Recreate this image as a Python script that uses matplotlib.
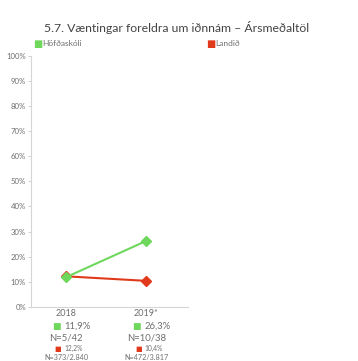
import matplotlib
matplotlib.use("Agg")
import matplotlib.pyplot as plt
from matplotlib.transforms import blended_transform_factory

years = ["2018", "2019*"]
school_name = "Höfðaskóli"
national_name = "Landið"
school_pct = [11.9, 26.3]
national_pct = [12.2, 10.4]
school_n = ["N=5/42", "N=10/38"]
national_n = ["N=373/2.840", "N=472/3.817"]
yticks = [0, 10, 20, 30, 40, 50, 60, 70, 80, 90, 100]

GREEN = "#6fd75c"
RED = "#e0391b"
GRAY = "#6e6e6e"
FONT = "Lato"

plt.rcParams["font.family"] = [FONT, "DejaVu Sans"]

fig = plt.figure(figsize=(3.58, 3.61), dpi=100)
ax = fig.add_axes([0.0866, 0.1496, 0.4384, 0.6961])

x = list(range(len(years)))
ax.plot(x, school_pct, color=GREEN, lw=1.5, marker="D", ms=5.5, zorder=3)
ax.plot(x, national_pct, color=RED, lw=1.5, marker="D", ms=5.5, zorder=2)

ax.set_xlim(-0.44, 1.52)
ax.set_ylim(0, 100)
ax.set_yticks(yticks)
ax.set_yticklabels([f"{v}%" for v in yticks], fontsize=5.6, color=GRAY)
ax.set_xticks([])
ax.tick_params(axis="y", length=2, width=0.5, color="#bbbbbb", pad=1.5)
for side in ("top", "right"):
    ax.spines[side].set_visible(False)
for side in ("left", "bottom"):
    ax.spines[side].set_color("#d5d5d5")
    ax.spines[side].set_linewidth(0.8)

# Category labels with values and sample sizes under the axis
tr = blended_transform_factory(ax.transData, fig.transFigure)
for i, yr in enumerate(years):
    ax.text(i, 1 - 314 / 361, yr, transform=tr, ha="center", va="center",
            fontsize=6.5, color=GRAY)
    ax.text(i - 0.02, 1 - 326 / 361, f"{school_pct[i]:.1f}%".replace(".", ","),
            transform=tr, ha="left", va="center", fontsize=6.8, color=GRAY)
    ax.text(i - 0.07, 1 - 326 / 361, "■", transform=tr, ha="right", va="center",
            fontsize=6.5, color=GREEN, family="DejaVu Sans")
    ax.text(i, 1 - 338 / 361, school_n[i], transform=tr, ha="center", va="center",
            fontsize=6.8, color=GRAY)
    ax.text(i - 0.02, 1 - 348.5 / 361, f"{national_pct[i]:.1f}%".replace(".", ","),
            transform=tr, ha="left", va="center", fontsize=4.8, color=GRAY)
    ax.text(i - 0.06, 1 - 348.5 / 361, "■", transform=tr, ha="right", va="center",
            fontsize=5, color=RED, family="DejaVu Sans")
    ax.text(i, 1 - 357 / 361, national_n[i], transform=tr, ha="center", va="center",
            fontsize=5.2, color=GRAY)

# Title and legend
fig.text(177 / 358, 1 - 27 / 361, "5.7. Væntingar foreldra um iðnnám – Ársmeðaltöl",
         ha="center", va="center", fontsize=8.8, color="#444444")
fig.text(33 / 358, 1 - 44 / 361, "■", ha="left", va="center", fontsize=7,
         color=GREEN, family="DejaVu Sans")
fig.text(42 / 358, 1 - 44 / 361, school_name, ha="left", va="center",
         fontsize=6, color=GRAY)
fig.text(206 / 358, 1 - 44 / 361, "■", ha="left", va="center", fontsize=7,
         color=RED, family="DejaVu Sans")
fig.text(215 / 358, 1 - 44 / 361, national_name, ha="left", va="center",
         fontsize=6, color=GRAY)

fig.savefig("out.png", dpi=100, facecolor="white")
